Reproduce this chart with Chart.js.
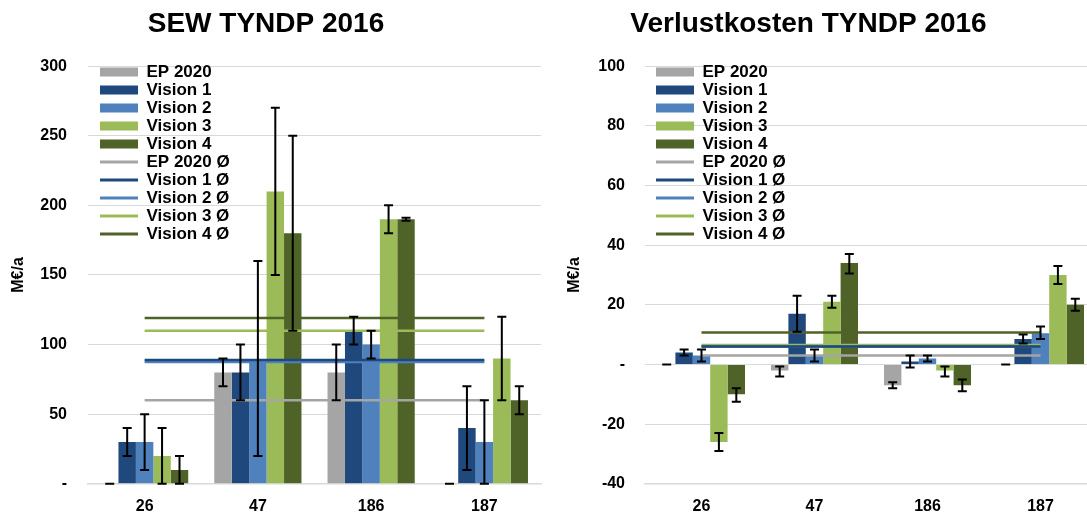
<!DOCTYPE html>
<html lang="de">
<head>
  <meta charset="UTF-8">
  <title>SEW und Verlustkosten TYNDP 2016</title>
  <script src="https://cdn.jsdelivr.net/npm/chart.js@4"></script>
  <style>
    html, body { margin: 0; padding: 0; background: #fff; overflow: hidden; }
    body { width: 1087px; height: 515px; position: relative; }
    #sewChart { position: absolute; left: -9px; top: 0; }
    #lossChart { position: absolute; left: 520px; top: 0; }
  </style>
</head>
<body>
<canvas id="sewChart" width="552" height="529"></canvas>
<canvas id="lossChart" width="580" height="529"></canvas>
<script>
// Projects on the x axis
const categories = ["26", "47", "186", "187"];
const seriesNames = ["EP 2020", "Vision 1", "Vision 2", "Vision 3", "Vision 4"];
const seriesColors = ["#A5A5A5", "#1F497D", "#4F81BD", "#9BBB59", "#4F6228"];

// SEW TYNDP 2016 (M€/a), one array per scenario
const sewEp2020 = [0, 80, 80, 0];
const sewVision1 = [30, 80, 110, 40];
const sewVision2 = [30, 87, 100, 30];
const sewVision3 = [20, 210, 190, 90];
const sewVision4 = [10, 180, 190, 60];
// error ranges (min / max)
const sewLow = [[0, 70, 60, 0], [20, 60, 100, 10], [10, 20, 90, 0], [0, 150, 180, 60], [0, 110, 189, 50]];
const sewHigh = [[0, 90, 100, 0], [40, 100, 120, 70], [50, 160, 110, 60], [40, 270, 200, 120], [20, 250, 191, 70]];
// averages per scenario (Ø)
const sewAverages = [60, 89, 87.5, 110, 119];

// Verlustkosten TYNDP 2016 (M€/a)
const lossEp2020 = [0, -2, -7, 0];
const lossVision1 = [4, 17, 1, 8.5];
const lossVision2 = [3, 3, 2, 10.5];
const lossVision3 = [-26, 21, -2, 30];
const lossVision4 = [-10, 34, -7, 20];
const lossLow = [[0, -4, -8, 0], [3, 11, -1, 7], [1, 1, 1, 8.5], [-29, 19, -4, 27], [-12.5, 30.5, -9, 18]];
const lossHigh = [[0, -0.7, -6, 0], [5, 23, 3, 10], [5, 5, 3, 12.7], [-23, 23, -0.7, 33], [-8, 37, -5, 22]];
const lossAverages = [3, 6, 6, 6.5, 10.7];

const FONT = '"Liberation Sans", Arial, sans-serif';
Chart.defaults.font.family = FONT;
Chart.defaults.font.weight = "bold";
Chart.defaults.font.size = 16;
Chart.defaults.color = "#000";

// whiskers for min / max on each bar
const errorBars = {
  id: "errorBars",
  afterDatasetsDraw(chart) {
    const { ctx } = chart;
    const y = chart.scales.y;
    ctx.save();
    ctx.strokeStyle = "#000";
    ctx.lineWidth = 2;
    chart.data.datasets.forEach((ds, i) => {
      if (!ds.errorLow) return;
      chart.getDatasetMeta(i).data.forEach((bar, j) => {
        const top = y.getPixelForValue(ds.errorHigh[j]);
        const bottom = y.getPixelForValue(ds.errorLow[j]);
        ctx.beginPath();
        ctx.moveTo(bar.x, top);
        ctx.lineTo(bar.x, bottom);
        ctx.moveTo(bar.x - 4.5, top);
        ctx.lineTo(bar.x + 4.5, top);
        ctx.moveTo(bar.x - 4.5, bottom);
        ctx.lineTo(bar.x + 4.5, bottom);
        ctx.stroke();
      });
    });
    ctx.restore();
  }
};

// put the legend in the upper left corner of the plot
const legendPlacement = {
  id: "legendPlacement",
  afterLayout(chart) {
    const area = chart.chartArea;
    chart.legend.left = area.left + chart.options.legendOffsetX;
    chart.legend.top = area.top - 3.6;
  }
};

function buildDatasets(values, lows, highs, averages) {
  const bars = values.map((data, i) => ({
    type: "bar",
    label: seriesNames[i],
    data: data,
    errorLow: lows[i],
    errorHigh: highs[i],
    backgroundColor: seriesColors[i],
    borderWidth: 0,
    order: 1
  }));
  const lines = averages.map((avg, i) => ({
    type: "line",
    label: seriesNames[i] + " Ø",
    data: categories.map(() => avg),
    borderColor: seriesColors[i],
    backgroundColor: seriesColors[i],
    borderWidth: 2.5,
    pointRadius: 0,
    tension: 0,
    order: 0
  }));
  return bars.concat(lines);
}

function makeChart(id, title, datasets, yMin, yMax, step, axisWidth, titlePad, tickPad, rightPad, legendOffsetX) {
  return new Chart(document.getElementById(id), {
    type: "bar",
    data: { labels: categories, datasets: datasets },
    plugins: [errorBars, legendPlacement],
    options: {
      responsive: false,
      animation: false,
      legendOffsetX: legendOffsetX,
      layout: { padding: { left: 0, right: rightPad, top: 0, bottom: 0 } },
      datasets: { bar: { categoryPercentage: 0.77, barPercentage: 1 } },
      plugins: {
        title: {
          display: true,
          text: title,
          color: "#000",
          font: { size: 28, weight: "bold" },
          padding: { top: 7, bottom: 25.5 }
        },
        legend: {
          position: "chartArea",
          align: "start",
          labels: {
            usePointStyle: true,
            pointStyleWidth: 38,
            boxHeight: 9,
            padding: 1,
            color: "#000",
            font: { size: 17, weight: "bold" },
            sort: (a, b) => a.datasetIndex - b.datasetIndex,
            generateLabels(chart) {
              const items = Chart.defaults.plugins.legend.labels.generateLabels(chart);
              items.forEach((item) => {
                const ds = chart.data.datasets[item.datasetIndex];
                if (ds.type === "line") {
                  item.pointStyle = "line";
                  item.lineWidth = 3;
                  item.strokeStyle = ds.borderColor;
                } else {
                  item.pointStyle = "rect";
                  item.lineWidth = 0;
                }
              });
              return items;
            }
          }
        },
        tooltip: { enabled: false }
      },
      scales: {
        x: {
          grid: { display: false, drawTicks: false },
          border: { display: true, color: "#D9D9D9", width: 1.5 },
          ticks: { padding: 13, font: { size: 16, weight: "bold" } }
        },
        y: {
          min: yMin,
          max: yMax,
          afterFit: (scale) => { scale.width = axisWidth; },
          grid: { color: "#D9D9D9", lineWidth: 1, drawTicks: false },
          border: { display: false },
          ticks: {
            stepSize: step,
            padding: tickPad,
            font: { size: 16, weight: "bold" },
            callback: (v) => (v === 0 ? "-" : v)
          },
          title: {
            display: true,
            text: "M€/a",
            color: "#000",
            font: { size: 16, weight: "bold" },
            padding: { top: titlePad, bottom: 0 }
          }
        }
      }
    }
  });
}

makeChart(
  "sewChart",
  "SEW TYNDP 2016",
  buildDatasets([sewEp2020, sewVision1, sewVision2, sewVision3, sewVision4], sewLow, sewHigh, sewAverages),
  0, 300, 50, 97, 18, 21, 2, 11
);

makeChart(
  "lossChart",
  "Verlustkosten TYNDP 2016",
  buildDatasets([lossEp2020, lossVision1, lossVision2, lossVision3, lossVision4], lossLow, lossHigh, lossAverages),
  -40, 100, 20, 125, 45, 20, 3, 10
);
</script>
</body>
</html>
